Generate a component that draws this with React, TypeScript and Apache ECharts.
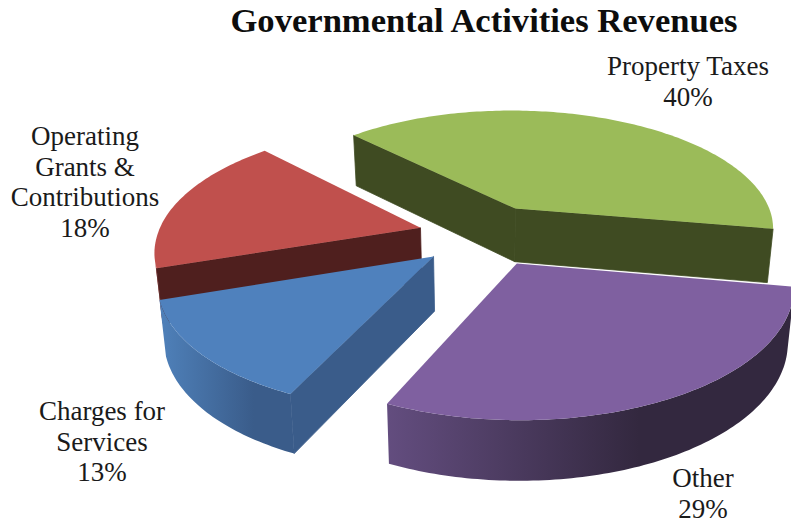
import React, { useEffect, useRef } from "react";
import * as echarts from "echarts";

// Revenue shares, clockwise from the first slice
const categories = ["Property Taxes", "Other", "Charges for Services", "Operating Grants & Contributions"];
const labelLines = [["Property Taxes"], ["Other"], ["Charges for", "Services"], ["Operating", "Grants &", "Contributions"]];
const shares = [40, 29, 13, 18];
const chartTitle = "Governmental Activities Revenues";

// Back-to-front order in which the slices are painted
const paintOrder = [0, 3, 2, 1];

const topColors = ["#9bbb59", "#7f60a0", "#4f81bd", "#c0504d"];
const cutColors = ["#3f4b22", "#33283f", "#3a5c8a", "#4f1f1e"];
const wallStops = [
  ["#3f4b22", "#3f4b22", 1],
  ["#634d7f", "#33283f", 0.62],
  ["#4f81ba", "#3a5c8a", 0.7],
  ["#a8403d", "#8a3532", 1],
] as const;
const labelCentres = [[688, 66], [703, 478], [102, 411], [85, 136]];

// Tilted-disc projection
const cx = 485;
const cy = 235;
const radius = 263;
const tilt = 0.462;
const perspective = 0.16;
const lean = 0.02;
const thickness = 54;
const explode = 67;
const firstAngle = 316;
const lineHeight = 30.6;

const rad = (d: number) => (d * Math.PI) / 180;

function project(x: number, y: number, z: number): number[] {
  const w = 1 / (1 - (perspective * y) / radius);
  const down = tilt * y * w;
  return [
    cx + x * w * (1 - 0.02 * z) - lean * Math.max(0, down),
    cy + down + z * thickness * (1 + (w - 1) * 0.5),
  ];
}

function area(pts: number[][]): number {
  let a = 0;
  pts.forEach((p, i) => {
    const q = pts[(i + 1) % pts.length];
    a += p[0] * q[1] - q[0] * p[1];
  });
  return a / 2;
}

function sliceAngles(index: number): number[] {
  const total = shares.reduce((s, v) => s + v, 0);
  const before = shares.slice(0, index).reduce((s, v) => s + v, 0);
  const a0 = firstAngle + (before / total) * 360;
  return [a0, a0 + (shares[index] / total) * 360];
}

function renderSlice(_params: unknown, api: any) {
  const i = api.value(0) as number;
  const [a0, a1] = sliceAngles(i);
  const mid = (a0 + a1) / 2;
  const ox = explode * Math.sin(rad(mid));
  const oy = -explode * Math.cos(rad(mid));
  const rim = (a: number, z: number) =>
    project(ox + radius * Math.sin(rad(a)), oy - radius * Math.cos(rad(a)), z);
  const apex = (z: number) => project(ox, oy, z);

  const steps = Math.max(24, Math.ceil(a1 - a0));
  const angles: number[] = [];
  for (let s = 0; s <= steps; s++) angles.push(a0 + ((a1 - a0) * s) / steps);

  const children: any[] = [];
  const poly = (points: number[][], fill: unknown, stroke: string | null) =>
    children.push({
      type: "polygon",
      shape: { points },
      style: { fill, stroke, lineWidth: stroke ? 0.8 : 0 },
    });

  // Outer wall: only the run of segments that faces the viewer
  const front = angles.filter((a, n) => {
    const b = angles[Math.min(n + 1, steps)];
    const c = n === steps ? angles[n - 1] : a;
    const d = n === steps ? a : b;
    return area([rim(c, 0), rim(d, 0), rim(d, 1), rim(c, 1)]) < 0;
  });
  if (front.length > 1) {
    const top = front.map((a) => rim(a, 0));
    const bottom = front.map((a) => rim(a, 1)).reverse();
    poly(
      top.concat(bottom),
      new echarts.graphic.LinearGradient(0, 0, 1, 0, [
        { offset: 0, color: wallStops[i][0] },
        { offset: wallStops[i][2], color: wallStops[i][1] },
        { offset: 1, color: wallStops[i][1] },
      ]),
      null
    );
  }

  // Straight cut faces, drawn when they turn towards the viewer
  const startCut = [apex(0), rim(a0, 0), rim(a0, 1), apex(1)];
  const endCut = [rim(a1, 0), apex(0), apex(1), rim(a1, 1)];
  [startCut, endCut].forEach((face) => {
    if (area(face) < 0) poly(face, cutColors[i], cutColors[i]);
  });

  // Upper surface
  poly([apex(0), ...angles.map((a) => rim(a, 0))], topColors[i], null);

  return { type: "group", children };
}

export default function App() {
  const ref = useRef<HTMLDivElement>(null);

  useEffect(() => {
    const chart = echarts.init(ref.current!, null, { renderer: "svg" });
    const textStyle = { fontFamily: "Liberation Serif", fontSize: 27, fill: "#1a1a1a" };
    chart.setOption({
      animation: false,
      backgroundColor: "#ffffff",
      title: {
        text: chartTitle,
        left: 479,
        top: -3,
        textAlign: "center",
        textStyle: { fontFamily: "Liberation Serif", fontWeight: "bold", fontSize: 34.6, color: "#0d0d0d" },
      },
      series: [
        {
          type: "custom",
          coordinateSystem: "none",
          renderItem: renderSlice,
          data: paintOrder.map((i) => [i, shares[i]]),
          silent: true,
        },
      ],
      graphic: categories.map((_name, i) => ({
        type: "text",
        x: labelCentres[i][0],
        y: labelCentres[i][1] - lineHeight / 2,
        style: {
          ...textStyle,
          text: [...labelLines[i], `${shares[i]}%`].join("\n"),
          align: "center",
          verticalAlign: "top",
          lineHeight,
        },
      })),
    });
    return () => chart.dispose();
  }, []);

  return <div ref={ref} style={{ position: "absolute", left: 0, top: 0, width: 791, height: 524 }} />;
}
